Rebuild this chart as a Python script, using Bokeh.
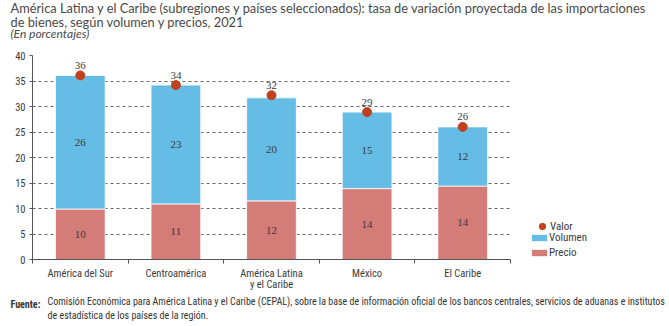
from bokeh.plotting import figure
from bokeh.models import (ColumnDataSource, FixedTicker, Range1d, LabelSet,
                          Legend, LegendItem, Title)
from bokeh.embed import file_html
from bokeh.resources import INLINE

categories = ["América del Sur", "Centroamérica", "América Latina\ny el Caribe", "México", "El Caribe"]
precio = [9.9, 10.9, 11.5, 13.9, 14.4]
volumen = [26.2, 23.3, 20.2, 15.0, 11.6]
valor = [36.1, 34.2, 32.2, 28.9, 26.0]
y_ticks = [0, 5, 10, 15, 20, 25, 30, 35, 40]

title_text = ("América Latina y el Caribe (subregiones y países seleccionados): tasa de variación proyectada de las importaciones\n"
              "de bienes, según volumen y precios, 2021")
subtitle = "(En porcentajes)"
source_label = "Fuente:"
source_text = ("Comisión Económica para América Latina y el Caribe (CEPAL), sobre la base de información oficial de los bancos centrales, servicios de aduanas e institutos\n"
               "de estadística de los países de la región.")

TFONT = "Lato"
COND = "Roboto Condensed"
C_PRECIO = "#D47C78"
C_VOL = "#65BDE6"
C_VALOR = "#C1401F"
TXT = "#3a3a3a"

n = len(categories)
xs = [i + 0.5 for i in range(n)]
top = [p_ + v_ for p_, v_ in zip(precio, volumen)]
src = ColumnDataSource(dict(
    x=xs, precio=precio, volumen=volumen, top=top, valor=valor,
    p_mid=[p_ / 2 for p_ in precio],
    v_mid=[p_ + v_ / 2 for p_, v_ in zip(precio, volumen)],
    p_lab=[str(round(v)) for v in precio],
    v_lab=[str(round(v)) for v in volumen],
    val_lab=[str(round(v)) for v in valor],
))

# frame spans 32..664 px; categories occupy 32..510 px
x_end = n * (669 - 32 - 5) / 478.0
p = figure(width=669, height=326, output_backend="svg", toolbar_location=None,
           x_range=Range1d(0, x_end), y_range=Range1d(0, 40),
           min_border_left=32, min_border_right=5, min_border_top=0, min_border_bottom=67)
p.outline_line_color = None

r_p = p.vbar(x="x", bottom=0, top="precio", width=0.52, source=src,
             fill_color=C_PRECIO, line_color="white", line_width=0.8)
r_v = p.vbar(x="x", bottom="precio", top="top", width=0.52, source=src,
             fill_color=C_VOL, line_color="white", line_width=0.8)
r_d = p.scatter(x="x", y="valor", size=9, source=src, fill_color=C_VALOR, line_color=C_VALOR)

for col, ycol in (("p_lab", "p_mid"), ("v_lab", "v_mid")):
    p.add_layout(LabelSet(x="x", y=ycol, text=col, source=src, text_align="center",
                          text_baseline="middle", text_font=COND,
                          text_font_size="11px", text_color=TXT))
p.add_layout(LabelSet(x="x", y="valor", text="val_lab", source=src, text_align="center",
                      text_baseline="middle", y_offset=10, text_font=COND,
                      text_font_size="11px", text_color=TXT))

p.xaxis.ticker = FixedTicker(ticks=xs, minor_ticks=list(range(n + 1)))
p.xaxis.major_label_overrides = {x: c for x, c in zip(xs, categories)}
p.xaxis.bounds = (0, n)
p.xaxis.major_tick_out = 0
p.xaxis.major_tick_in = 0
p.xaxis.minor_tick_out = 4
p.xaxis.minor_tick_in = 0
p.xaxis.major_label_standoff = 3
p.xaxis.major_label_text_line_height = 0.85
p.yaxis.ticker = FixedTicker(ticks=y_ticks)
p.yaxis.major_tick_out = 3
p.yaxis.major_tick_in = 0
p.yaxis.minor_tick_out = 0
p.yaxis.minor_tick_in = 0
p.yaxis.major_label_standoff = 4
for ax in (p.xaxis, p.yaxis):
    ax.axis_line_color = "#555555"
    ax.major_tick_line_color = "#555555"
    ax.minor_tick_line_color = "#555555"
    ax.major_label_text_font = COND
    ax.major_label_text_font_size = "10.5px"
    ax.major_label_text_color = TXT

p.xgrid.grid_line_color = None
grid = p.ygrid[0]
if "cross_bounds" in grid.properties():
    grid.grid_line_color = "#666666"
    grid.grid_line_dash = "3 3"
    grid.grid_line_width = 1
    grid.cross_bounds = (0, n)
else:
    grid.grid_line_color = None
    p.segment(x0=[0] * len(y_ticks), x1=[n] * len(y_ticks), y0=y_ticks, y1=y_ticks,
              line_color="#666666", line_dash="3 3", line_width=1)

leg_a = Legend(items=[LegendItem(label="Valor", renderers=[r_d])],
               location=(502, 25), orientation="vertical",
               border_line_color=None, background_fill_alpha=0,
               padding=0, margin=0, spacing=0, label_standoff=0,
               glyph_width=16, glyph_height=16, label_height=16,
               label_text_font=COND, label_text_font_size="11px", label_text_color=TXT)
leg_b = Legend(items=[LegendItem(label="Volumen", renderers=[r_v]),
                      LegendItem(label="Precio", renderers=[r_p])],
               location=(497, -1), orientation="vertical",
               border_line_color=None, background_fill_alpha=0,
               padding=0, margin=0, spacing=0, label_standoff=0,
               glyph_width=20, glyph_height=9, label_height=15,
               label_text_font=COND, label_text_font_size="11px", label_text_color=TXT)
p.add_layout(leg_a)
p.add_layout(leg_b)

# ---- header (p.title outermost; added items stack outward from the frame) ----
p.add_layout(Title(text=" ", align="left", standoff=8, text_font_size="8px"), "above")
p.add_layout(Title(text=subtitle, align="left", offset=-22, standoff=-8,
                   text_font=TFONT, text_font_style="italic", text_font_size="12px",
                   text_color="#4a4a4a"), "above")
p.title.text = title_text
p.title.align = "left"
p.title.offset = -22
p.title.standoff = -5
p.title.text_font = TFONT
p.title.text_font_style = "normal"
p.title.text_font_size = "12.8px"
p.title.text_line_height = 0.855
p.title.text_color = "#4a4a4a"

# ---- footer ----
p.add_layout(Title(text=" ", align="left", standoff=0, text_font_size="1px"), "below")
p.add_layout(Title(text=source_label, align="left", offset=-22, standoff=0,
                   text_font=COND, text_font_style="bold", text_font_size="10px",
                   text_color="#333333"), "below")
p.add_layout(Title(text=source_text, align="left", offset=15, standoff=-27,
                   vertical_align="top", text_font=COND, text_font_style="normal",
                   text_font_size="10px", text_line_height=1.25, text_color="#333333"), "below")

open("out.html", "w").write(file_html(p, INLINE))
